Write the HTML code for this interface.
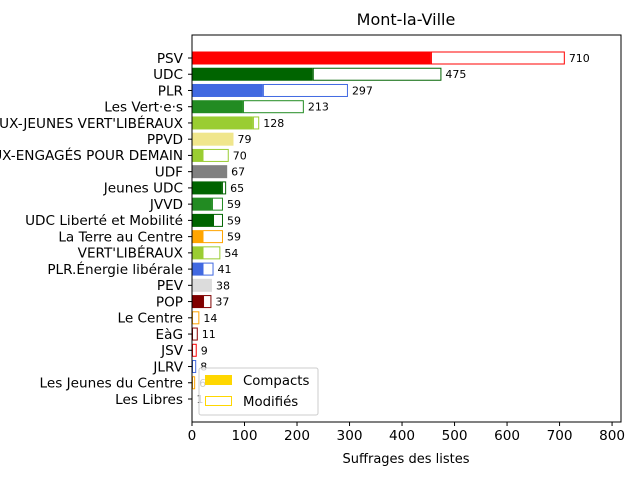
<!DOCTYPE html>
<html><head><meta charset="utf-8"><style>
body{margin:0;background:#fff;}
svg{display:block;font-family:"DejaVu Sans","Liberation Sans",sans-serif;}
</style></head><body>
<svg id="chart" width="640" height="480">
<text x="406" y="25" font-size="16" text-anchor="middle">Mont-la-Ville</text>
<g id="bars"></g>
<g id="axes"></g>
<text x="406" y="463" font-size="13" text-anchor="middle">Suffrages des listes</text>
<g>
<rect x="199" y="368" width="119" height="47" fill="#fff" fill-opacity="0.8" stroke="#ccc" rx="2"/>
<rect x="205" y="375" width="27" height="10" fill="#ffd700"/>
<text x="243" y="385" font-size="13.3">Compacts</text>
<rect x="205.5" y="396.5" width="26" height="9" fill="#fff" stroke="#ffd700"/>
<text x="243" y="406" font-size="13.3">Modifiés</text>
</g>
</svg>
<script>
const categories=["PSV","UDC","PLR","Les Vert·e·s","JEUX-JEUNES VERT'LIBÉRAUX","PPVD","JEUX-ENGAGÉS POUR DEMAIN","UDF","Jeunes UDC","JVVD","UDC Liberté et Mobilité","La Terre au Centre","VERT'LIBÉRAUX","PLR.Énergie libérale","PEV","POP","Le Centre","EàG","JSV","JLRV","Les Jeunes du Centre","Les Libres"];
const totals=[710,475,297,213,128,79,70,67,65,59,59,59,54,41,38,37,14,11,9,8,6,1];
const compacts=[455,230,135,97,116,79,20,67,57,38,40,20,20,20,38,21,0,0,0,0,0,1];
const colors=["#ff0000","#006400","#4169e1","#228b22","#9acd32","#f0e68c","#9acd32","#808080","#006400","#228b22","#006400","#ffa500","#9acd32","#4169e1","#dcdcdc","#800000","#ffa500","#8b0000","#ff0000","#4169e1","#ffa500","#ffd700"];
const xTicks=[0,100,200,300,400,500,600,700,800];
const NS="http://www.w3.org/2000/svg";
const L=192,R=621,T=35,B=422,xmax=817;
const x=v=>L+v*(R-L)/xmax;
const step=(399-58)/21;
const y=i=>58+i*step;
const bh=13;
function mk(tag,attrs,parent){const e=document.createElementNS(NS,tag);for(const k in attrs)e.setAttribute(k,attrs[k]);parent.appendChild(e);return e;}
const bars=document.getElementById('bars'),axes=document.getElementById('axes');
categories.forEach((c,i)=>{
  const yc=y(i);
  const m=mk('rect',{x:x(compacts[i])+0.5,y:yc-bh/2+0.5,width:Math.max(0,x(totals[i])-x(compacts[i])-1),height:bh-1,fill:'#fff',stroke:colors[i]},bars);
  
  
  if(compacts[i]>0){
    const f=mk('rect',{x:x(0),y:yc-bh/2,width:x(compacts[i])-x(0),height:bh,fill:colors[i]},bars);
    
    
  }
  const t=mk('text',{x:x(totals[i])+4,y:yc+4,'font-size':11},bars);
  t.textContent=totals[i];
  
  
  const yl=mk('text',{x:183,y:yc+4.8,'font-size':13.6,'text-anchor':'end'},axes);
  yl.textContent=c;
  
  
  mk('line',{x1:188,x2:192,y1:yc,y2:yc,stroke:'#000'},axes);
});
xTicks.forEach(v=>{
  mk('line',{x1:x(v),x2:x(v),y1:B,y2:B+4,stroke:'#000'},axes);
  const t=mk('text',{x:x(v),y:B+18,'font-size':13.6,'text-anchor':'middle'},axes);
  t.textContent=v;
  
  
});
const fr=mk('rect',{x:L,y:T,width:R-L,height:B-T,fill:'none',stroke:'#000','stroke-width':1},axes);


</script>
</body></html>
